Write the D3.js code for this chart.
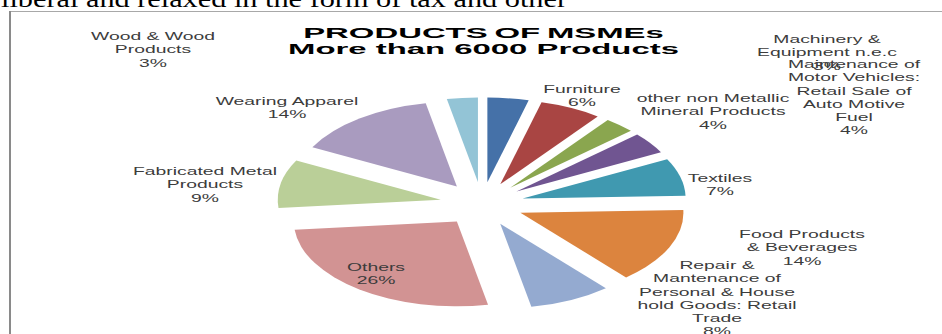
<!DOCTYPE html>
<html>
<head>
<meta charset="utf-8">
<script src="https://cdn.jsdelivr.net/npm/d3@7"></script>
<style>
  html, body { margin: 0; padding: 0; background: #fff; }
  svg { display: block; }
</style>
</head>
<body>
<svg id="chart" width="942" height="334"></svg>
<script>
// Product groups of MSMEs, clockwise from 12 o'clock
const categories = [
  "other non Metallic Mineral Products",
  "Furniture",
  "Machinery & Equipment n.e.c",
  "Maintenance of Motor Vehicles: Retail Sale of Auto Motive Fuel",
  "Textiles",
  "Food Products & Beverages",
  "Repair & Mantenance of Personal & House hold Goods: Retail Trade",
  "Others",
  "Fabricated Metal Products",
  "Wearing Apparel",
  "Wood & Wood Products"
];
const shares = [4, 6, 3, 4, 7, 14, 8, 26, 9, 14, 3];

// label text as it wraps on the chart
const labelLines = [
  ["other non Metallic", "Mineral Products"],
  ["Furniture"],
  ["Machinery &", "Equipment n.e.c"],
  ["Maintenance of", "Motor Vehicles:", "Retail Sale of", "Auto Motive", "Fuel"],
  ["Textiles"],
  ["Food Products", "& Beverages"],
  ["Repair &", "Mantenance of", "Personal & House", "hold Goods:  Retail", "Trade"],
  ["Others"],
  ["Fabricated Metal", "Products"],
  ["Wearing Apparel"],
  ["Wood & Wood", "Products"]
];
const titleLines = ["PRODUCTS OF MSMEs", "More than 6000 Products"];
const bodyText = "liberal and relaxed in the form of tax and other";

// ---- layout ----
const palette = ["#4571a8", "#a94543", "#8aa64f", "#705591", "#4099b0", "#dc843e",
                 "#94aad0", "#d29393", "#bacf98", "#a99bbf", "#93c4d6"];
// label block anchor: centre x, first baseline y
const labelSpots = [
  [713, 102], [582, 93], [827, 43], [854, 68], [720, 182], [802, 238],
  [717, 269], [376, 271], [205, 175], [287, 105], [153, 40]
];
const pieCx = 482, pieCy = 204, radius = 163, tilt = 0.52, explode = 42;
const lineH = 13.3;

const svg = d3.select("#chart");

// page text above the chart frame
svg.append("text")
  .attr("x", 1).attr("y", 7)
  .attr("textLength", 566).attr("lengthAdjust", "spacingAndGlyphs")
  .style("font-family", "'Liberation Serif', 'Times New Roman', serif")
  .style("font-size", "24px").attr("fill", "#000")
  .text(bodyText);

// chart frame edges
svg.append("line").attr("x1", 9).attr("x2", 942).attr("y1", 11.5).attr("y2", 11.5)
  .attr("stroke", "#a8a8a8").attr("stroke-width", 1);
svg.append("line").attr("x1", 10).attr("x2", 10).attr("y1", 11).attr("y2", 334)
  .attr("stroke", "#8a8a8a").attr("stroke-width", 2);

// exploded, tilted pie
const pie = d3.pie().sort(null).value(d => d).startAngle(0).endAngle(2 * Math.PI);
const arcs = pie(shares);
const arc = d3.arc().innerRadius(0).outerRadius(radius);

const pieG = svg.append("g")
  .attr("transform", `translate(${pieCx},${pieCy}) scale(1,${tilt})`);

pieG.selectAll("path.slice")
  .data(arcs)
  .join("path")
  .attr("class", "slice")
  .attr("d", arc)
  .attr("fill", (d, i) => palette[i])
  .attr("transform", d => {
    const mid = (d.startAngle + d.endAngle) / 2;
    return `translate(${explode * Math.sin(mid)},${-explode * Math.cos(mid)})`;
  });

// title: one text block, two lines
const title = svg.append("text")
  .attr("transform", "translate(483.5,37.9) scale(2.3,1)")
  .attr("text-anchor", "middle")
  .style("font-family", "'Liberation Sans', Arial, sans-serif")
  .style("font-weight", "700")
  .style("font-size", "14.3px")
  .attr("fill", "#000");
title.selectAll("tspan")
  .data(titleLines)
  .join("tspan")
  .attr("x", 0)
  .attr("y", (d, i) => i * 16.2)
  .style("word-spacing", (d, i) => i === 0 ? "-1px" : null)
  .text(d => d);

// data labels: category lines followed by percentage, one block per slice
const labels = svg.append("g");
arcs.forEach((d, i) => {
  const lines = labelLines[i].concat([`${shares[i]}%`]);
  const [lx, ly] = labelSpots[i];
  labels.append("text")
    .attr("transform", `translate(${lx},${ly}) scale(1.64,1)`)
    .attr("text-anchor", "middle")
    .style("font-family", "'Liberation Sans', Arial, sans-serif")
    .style("font-size", "11.8px")
    .attr("fill", "#3c3c3c")
    .selectAll("tspan")
    .data(lines)
    .join("tspan")
    .attr("x", 0)
    .attr("y", (t, j) => j * lineH)
    .text(t => t);
});
</script>
</body>
</html>
